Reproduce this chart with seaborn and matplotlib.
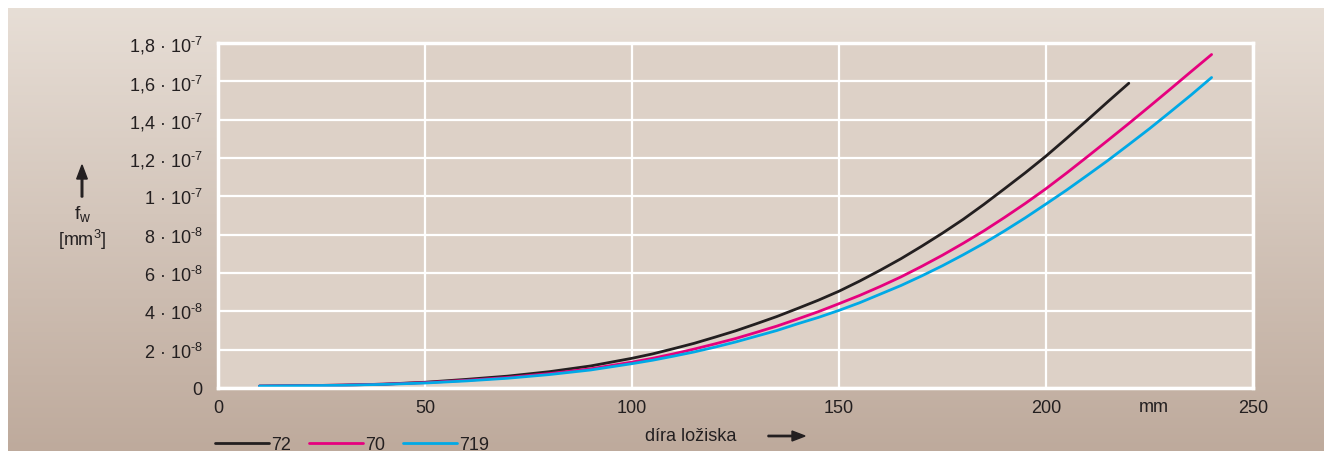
import numpy as np
import pandas as pd
import matplotlib
matplotlib.use("Agg")
import matplotlib.pyplot as plt
import seaborn as sns

# bore diameter [mm] and f_w values [1e-8 mm^3]
bore = [10, 20, 30, 40, 50, 60, 70, 80, 90, 100, 105, 110, 115, 120, 125, 130,
        135, 140, 145, 150, 155, 160, 165, 170, 175, 180, 185, 190, 195, 200,
        205, 210, 215, 220, 225, 230, 235, 240]
fw_72 = [0.1, 0.12, 0.15, 0.2, 0.3, 0.45, 0.62, 0.85, 1.15, 1.55, 1.78, 2.05,
         2.33, 2.65, 2.98, 3.35, 3.73, 4.15, 4.58, 5.05, 5.58, 6.15, 6.75, 7.4,
         8.08, 8.8, 9.58, 10.4, 11.23, 12.1, 13.03, 13.98, 14.95, 15.9]
fw_70 = [0.1, 0.12, 0.15, 0.2, 0.28, 0.4, 0.55, 0.75, 1.0, 1.35, 1.55, 1.78,
         2.03, 2.3, 2.58, 2.9, 3.23, 3.6, 3.98, 4.4, 4.83, 5.3, 5.8, 6.35,
         6.93, 7.55, 8.2, 8.9, 9.63, 10.4, 11.22, 12.07, 12.93, 13.8, 14.69,
         15.59, 16.5, 17.4]
fw_719 = [0.1, 0.12, 0.14, 0.19, 0.26, 0.37, 0.51, 0.7, 0.94, 1.27, 1.45, 1.66,
          1.88, 2.13, 2.4, 2.7, 3.0, 3.35, 3.68, 4.05, 4.45, 4.9, 5.35, 5.85,
          6.38, 6.95, 7.55, 8.2, 8.88, 9.6, 10.33, 11.1, 11.88, 12.7, 13.53,
          14.4, 15.28, 16.2]
series = ["72", "70", "719"]
colors = ["#231f20", "#e6007e", "#00a9e6"]

ytick_vals = [0, 2e-8, 4e-8, 6e-8, 8e-8, 1e-7, 1.2e-7, 1.4e-7, 1.6e-7, 1.8e-7]
ytick_labels = ["0", "2 · 10$^{\u20108}$", "4 · 10$^{\u20108}$", "6 · 10$^{\u20108}$",
                "8 · 10$^{\u20108}$", "1 · 10$^{\u20107}$", "1,2 · 10$^{\u20107}$",
                "1,4 · 10$^{\u20107}$", "1,6 · 10$^{\u20107}$", "1,8 · 10$^{\u20107}$"]
xtick_vals = [0, 50, 100, 150, 200, 250]

rows = []
for name, vals in zip(series, [fw_72, fw_70, fw_719]):
    for d, v in zip(bore, vals):
        rows.append({"bore": d, "fw": v * 1e-8, "series": name})
df = pd.DataFrame(rows)

sns.set_style("white")
plt.rcParams["font.family"] = ["Liberation Sans", "DejaVu Sans"]
plt.rcParams["mathtext.fontset"] = "custom"
plt.rcParams["mathtext.rm"] = "Liberation Sans"
plt.rcParams["mathtext.it"] = "Liberation Sans:italic"
plt.rcParams["mathtext.default"] = "regular"
txt = "#231f20"

fig = plt.figure(figsize=(13.24, 4.52), dpi=100)
fig.patch.set_facecolor("white")

# gradient background
bg = fig.add_axes([8 / 1324, 0, 1 - 8 / 1324, 443 / 452], zorder=-10)
top = np.array([0.906, 0.871, 0.839])
bot = np.array([0.745, 0.667, 0.612])
t = np.linspace(0, 1, 256)[:, None]
grad = (top * (1 - t) + bot * t)[:, None, :]
bg.imshow(grad, aspect="auto", extent=[0, 1, 0, 1])
bg.set_axis_off()

ax = fig.add_axes([218 / 1324, 1 - 389 / 452, (1253 - 218) / 1324, (389 - 44) / 452])
ax.set_facecolor("#ddd1c7")
sns.lineplot(data=df, x="bore", y="fw", hue="series", hue_order=series,
             palette=colors, linewidth=2, ax=ax, legend=False)

ax.set_xlim(0, 250)
ax.set_ylim(0, 1.8e-7)
ax.set_xticks(xtick_vals)
ax.set_yticks(ytick_vals)
ax.set_yticklabels(ytick_labels)
ax.tick_params(length=0, labelsize=13, labelcolor=txt)
ax.tick_params(axis="y", pad=11)
ax.tick_params(axis="x", pad=8)
ax.grid(True, color="white", linewidth=1.6)
for s in ax.spines.values():
    s.set_color("white")
    s.set_linewidth(2.5)
ax.set_xlabel("")
ax.set_ylabel("")

# axis titles
fig.text(1154 / 1324, 1 - 408 / 452, "mm", fontsize=13, color=txt, ha="center", va="center")
fig.text(691 / 1324, 1 - 437 / 452, "díra ložiska", fontsize=13, color=txt, ha="center", va="center")
fig.patches.append(matplotlib.patches.FancyArrow(
    768 / 1324, 1 - 437 / 452, 37 / 1324, 0, width=0.003, head_width=0.022,
    head_length=13 / 1324, length_includes_head=True, color=txt,
    transform=fig.transFigure, figure=fig))
fig.patches.append(matplotlib.patches.FancyArrow(
    82 / 1324, 1 - 198 / 452, 0, 32 / 452, width=0.0012, head_width=0.008,
    head_length=14 / 452, length_includes_head=True, color=txt,
    transform=fig.transFigure, figure=fig))
fig.text(83 / 1324, 1 - 214 / 452, r"f$_{\mathrm{w}}$", fontsize=14, color=txt, ha="center", va="center")
fig.text(82 / 1324, 1 - 240 / 452, r"[mm$^{3}$]", fontsize=13, color=txt, ha="center", va="center")

# legend
handles = [matplotlib.lines.Line2D([], [], color=c, linewidth=2) for c in colors]
fig.legend(handles, series, loc="center left", bbox_to_anchor=(215 / 1324, 1 - 446 / 452),
           ncol=3, frameon=False, fontsize=13, handlelength=3.0, handletextpad=0.1,
           columnspacing=1.0, labelcolor=txt, borderaxespad=0, borderpad=0)

fig.savefig("out.png", dpi=100)
